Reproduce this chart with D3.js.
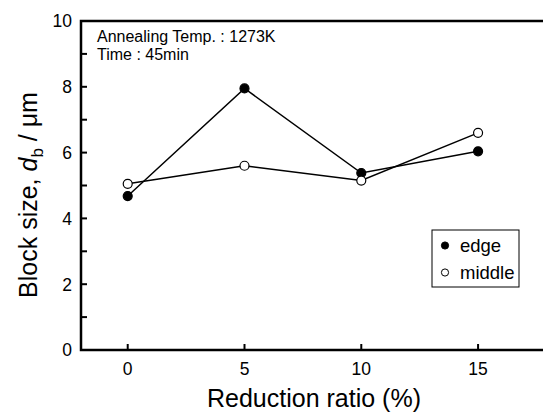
<!DOCTYPE html>
<html>
<head>
<meta charset="utf-8">
<script src="https://cdn.jsdelivr.net/npm/d3@7"></script>
<style>
  body { margin: 0; background: #fff; }
  svg { display: block; font-family: "Liberation Sans", Arial, sans-serif; }
</style>
</head>
<body>
<svg id="chart"></svg>
<script>
const reduction = [0, 5, 10, 15];
const edge = [4.68, 7.95, 5.38, 6.04];
const middle = [5.05, 5.6, 5.15, 6.6];
const xTicks = [0, 5, 10, 15];
const yTicks = [0, 2, 4, 6, 8, 10];
const yMinor = [1, 3, 5, 7, 9];

const width = 543;
const height = 413;
const margin = { top: 21, right: 0, bottom: 63, left: 81 };

const svg = d3.select('#chart')
    .attr('width', width)
    .attr('height', height);

const x = d3.scaleLinear()
    .domain([-2, 17.78])
    .range([margin.left, width - margin.right]);

const y = d3.scaleLinear()
    .domain([0, 10])
    .range([height - margin.bottom, margin.top]);

// frame: left, bottom, top
svg.append('path')
    .attr('d', `M${x.range()[1]},${y(10)}H${x(-2)}V${y(0)}H${x.range()[1]}`)
    .attr('fill', 'none')
    .attr('stroke', '#000')
    .attr('stroke-width', 2.5);

// y ticks (inward)
const yAxis = svg.append('g');
yAxis.selectAll('line')
  .data(yTicks.filter(d => d > 0 && d < 10).concat(yMinor))
  .join('line')
    .attr('x1', x(-2)).attr('x2', x(-2) + 6)
    .attr('y1', d => y(d)).attr('y2', d => y(d))
    .attr('stroke', '#000').attr('stroke-width', 2);
yAxis.selectAll('text')
  .data(yTicks)
  .join('text')
    .attr('x', x(-2) - 9)
    .attr('y', d => y(d))
    .attr('dy', '0.36em')
    .attr('text-anchor', 'end')
    .attr('font-size', 17.5)
    .text(d => d);

// x ticks (inward)
const xAxis = svg.append('g');
xAxis.selectAll('line')
  .data(xTicks)
  .join('line')
    .attr('x1', d => x(d)).attr('x2', d => x(d))
    .attr('y1', y(0)).attr('y2', y(0) - 6)
    .attr('stroke', '#000').attr('stroke-width', 2);
xAxis.selectAll('text')
  .data(xTicks)
  .join('text')
    .attr('x', d => x(d))
    .attr('y', y(0) + 25)
    .attr('text-anchor', 'middle')
    .attr('font-size', 17.5)
    .text(d => d);

// axis titles
svg.append('text')
    .attr('x', 314)
    .attr('y', 407)
    .attr('text-anchor', 'middle')
    .attr('font-size', 25)
    .text('Reduction ratio (%)');

const yTitle = svg.append('text')
    .attr('transform', `translate(37,195) rotate(-90)`)
    .attr('text-anchor', 'middle')
    .attr('font-size', 25);
yTitle.append('tspan').text('Block size, ');
yTitle.append('tspan').attr('font-style', 'italic').text('d');
yTitle.append('tspan').attr('font-size', 17).attr('dy', 6).text('b');
yTitle.append('tspan').attr('dy', -6).text(' / \u03bcm');

// annotation
svg.append('text')
    .attr('x', 97).attr('y', 42)
    .attr('font-size', 16)
    .text('Annealing Temp. : 1273K');
svg.append('text')
    .attr('x', 97).attr('y', 60)
    .attr('font-size', 16)
    .text('Time : 45min');

// series
const line = d3.line()
    .x((d, i) => x(reduction[i]))
    .y(d => y(d));

const series = [
  { name: 'edge', values: edge, fill: '#000' },
  { name: 'middle', values: middle, fill: '#fff' }
];

series.forEach(s => {
  svg.append('path')
      .datum(s.values)
      .attr('fill', 'none')
      .attr('stroke', '#000')
      .attr('stroke-width', 1.5)
      .attr('d', line);
});

series.forEach(s => {
  svg.append('g')
    .selectAll('circle')
    .data(s.values)
    .join('circle')
      .attr('cx', (d, i) => x(reduction[i]))
      .attr('cy', d => y(d))
      .attr('r', 4.5)
      .attr('fill', s.fill)
      .attr('stroke', '#000')
      .attr('stroke-width', 1.2);
});

// legend
const legend = svg.append('g').attr('transform', 'translate(432,230)');
legend.append('rect')
    .attr('width', 87).attr('height', 57)
    .attr('fill', '#fff')
    .attr('stroke', '#000')
    .attr('stroke-width', 1);
series.forEach((s, i) => {
  legend.append('circle')
      .attr('cx', 13).attr('cy', 15.5 + i * 27)
      .attr('r', 3.6)
      .attr('fill', s.fill)
      .attr('stroke', '#000')
      .attr('stroke-width', 1);
  legend.append('text')
      .attr('x', 28).attr('y', 15.5 + i * 27)
      .attr('dy', '0.36em')
      .attr('font-size', 18.5)
      .text(s.name);
});
</script>
</body>
</html>
